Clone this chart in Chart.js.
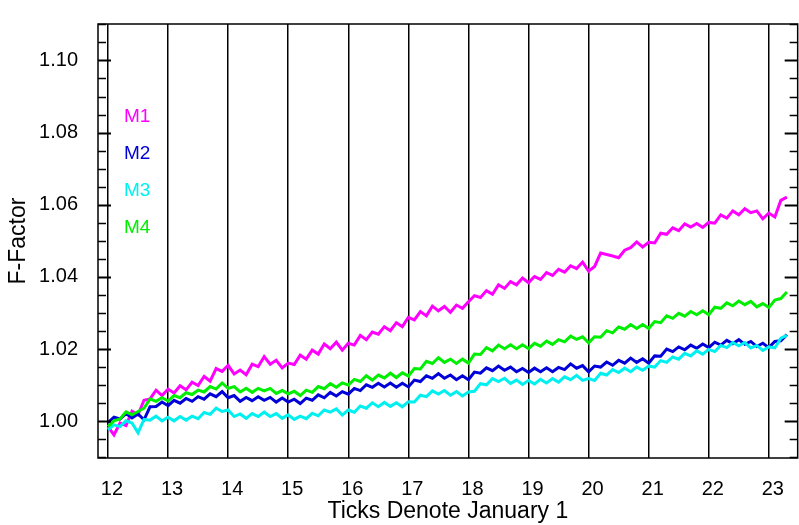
<!DOCTYPE html>
<html>
<head>
<meta charset="utf-8">
<script src="https://cdn.jsdelivr.net/npm/chart.js@4.4.1/dist/chart.umd.min.js"></script>
<style>
  html, body { margin: 0; padding: 0; background: #fff; }
  #wrap { width: 799px; height: 525px; }
</style>
</head>
<body>
<div id="wrap"><canvas id="myChart" width="799" height="525"></canvas></div>
<script>
// sample times (decimal year, 12 = Jan 1 2012)
const years = [
  12.0,12.1,12.2,12.3,12.4,12.5,12.6,12.7,12.8,12.9,
  13.0,13.1,13.2,13.3,13.4,13.5,13.6,13.7,13.8,13.9,
  14.0,14.1,14.2,14.3,14.4,14.5,14.6,14.7,14.8,14.9,
  15.0,15.1,15.2,15.3,15.4,15.5,15.6,15.7,15.8,15.9,
  16.0,16.1,16.2,16.3,16.4,16.5,16.6,16.7,16.8,16.9,
  17.0,17.1,17.2,17.3,17.4,17.5,17.6,17.7,17.8,17.9,
  18.0,18.1,18.2,18.3,18.4,18.5,18.6,18.7,18.8,18.9,
  19.0,19.1,19.2,19.3,19.4,19.5,19.6,19.7,19.8,19.9,
  20.0,20.1,20.2,20.3,20.4,20.5,20.6,20.7,20.8,20.9,
  21.0,21.1,21.2,21.3,21.4,21.5,21.6,21.7,21.8,21.9,
  22.0,22.1,22.2,22.3,22.4,22.5,22.6,22.7,22.8,22.9,
  23.0,23.1,23.2,23.3
];

const m1 = [
  0.9985,0.9962,0.9995,0.9988,1.0028,1.0018,1.0058,1.0062,1.0086,1.0071,
  1.0089,1.0078,1.0098,1.0087,1.0108,1.0099,1.0124,1.0111,1.0146,1.0138,
  1.0155,1.0131,1.0142,1.0129,1.0158,1.0151,1.0179,1.0158,1.0169,1.0148,
  1.0161,1.0157,1.0183,1.0172,1.0197,1.0186,1.0214,1.0201,1.0219,1.0197,
  1.0216,1.0211,1.0238,1.0226,1.0247,1.0241,1.0262,1.0251,1.0273,1.0262,
  1.0288,1.0281,1.0304,1.0292,1.0319,1.0306,1.0318,1.0302,1.0322,1.0313,
  1.0331,1.0348,1.0343,1.0362,1.0352,1.0378,1.0368,1.0387,1.0378,1.0397,
  1.0384,1.0401,1.0393,1.0412,1.0404,1.0421,1.0413,1.0431,1.0423,1.0441,
  1.0416,1.0429,1.0466,1.0462,1.0458,1.0453,1.0474,1.0481,1.0497,1.0483,
  1.0496,1.0494,1.0521,1.0518,1.0536,1.0528,1.0547,1.0538,1.0548,1.0537,
  1.0551,1.0549,1.0572,1.0563,1.0583,1.0572,1.0589,1.0578,1.0583,1.0561,
  1.0577,1.0566,1.0612,1.0621
];

const m2 = [
  0.9996,1.0011,1.0006,1.0021,1.0009,1.0020,1.0004,1.0040,1.0041,1.0053,
  1.0043,1.0058,1.0050,1.0063,1.0055,1.0068,1.0061,1.0076,1.0068,1.0082,
  1.0065,1.0071,1.0055,1.0066,1.0057,1.0068,1.0058,1.0066,1.0053,1.0064,
  1.0053,1.0061,1.0049,1.0064,1.0058,1.0073,1.0065,1.0080,1.0070,1.0082,
  1.0075,1.0091,1.0085,1.0101,1.0094,1.0105,1.0095,1.0106,1.0094,1.0105,
  1.0095,1.0114,1.0110,1.0126,1.0119,1.0132,1.0119,1.0128,1.0115,1.0126,
  1.0115,1.0136,1.0133,1.0148,1.0140,1.0153,1.0141,1.0150,1.0137,1.0146,
  1.0135,1.0147,1.0137,1.0148,1.0137,1.0149,1.0143,1.0159,1.0147,1.0154,
  1.0137,1.0153,1.0150,1.0164,1.0155,1.0169,1.0161,1.0175,1.0163,1.0173,
  1.0161,1.0181,1.0180,1.0200,1.0193,1.0206,1.0198,1.0211,1.0202,1.0214,
  1.0204,1.0219,1.0211,1.0224,1.0215,1.0226,1.0213,1.0221,1.0207,1.0216,
  1.0204,1.0221,1.0223,1.0240
];

const m3 = [
  0.9976,0.9990,0.9985,1.0001,0.9995,0.9968,1.0005,1.0003,1.0014,1.0001,
  1.0011,1.0001,1.0013,1.0003,1.0014,1.0007,1.0024,1.0019,1.0036,1.0027,
  1.0031,1.0013,1.0020,1.0008,1.0021,1.0013,1.0025,1.0013,1.0021,1.0008,
  1.0018,1.0005,1.0014,1.0007,1.0022,1.0015,1.0031,1.0025,1.0034,1.0017,
  1.0031,1.0025,1.0042,1.0036,1.0051,1.0040,1.0052,1.0041,1.0051,1.0040,
  1.0054,1.0053,1.0072,1.0068,1.0084,1.0075,1.0085,1.0072,1.0082,1.0070,
  1.0081,1.0083,1.0104,1.0101,1.0118,1.0110,1.0119,1.0105,1.0114,1.0102,
  1.0113,1.0103,1.0116,1.0106,1.0118,1.0108,1.0123,1.0115,1.0127,1.0113,
  1.0118,1.0113,1.0133,1.0128,1.0143,1.0135,1.0147,1.0137,1.0150,1.0141,
  1.0153,1.0150,1.0168,1.0163,1.0178,1.0172,1.0188,1.0181,1.0195,1.0186,
  1.0199,1.0193,1.0210,1.0204,1.0218,1.0209,1.0218,1.0203,1.0210,1.0196,
  1.0206,1.0203,1.0230,1.0238
];

const m4 = [
  0.9985,1.0001,1.0006,1.0026,1.0018,1.0027,1.0036,1.0062,1.0055,1.0065,
  1.0056,1.0071,1.0065,1.0079,1.0074,1.0086,1.0081,1.0096,1.0089,1.0106,
  1.0091,1.0096,1.0081,1.0091,1.0080,1.0091,1.0084,1.0091,1.0077,1.0085,
  1.0076,1.0083,1.0071,1.0086,1.0080,1.0096,1.0090,1.0104,1.0094,1.0106,
  1.0100,1.0116,1.0110,1.0126,1.0114,1.0128,1.0120,1.0133,1.0121,1.0134,
  1.0125,1.0146,1.0145,1.0166,1.0160,1.0176,1.0163,1.0172,1.0160,1.0172,
  1.0161,1.0186,1.0185,1.0204,1.0195,1.0211,1.0201,1.0212,1.0201,1.0212,
  1.0201,1.0216,1.0208,1.0222,1.0213,1.0226,1.0220,1.0236,1.0227,1.0234,
  1.0217,1.0234,1.0233,1.0251,1.0245,1.0261,1.0255,1.0268,1.0257,1.0268,
  1.0257,1.0276,1.0273,1.0292,1.0285,1.0299,1.0291,1.0304,1.0295,1.0306,
  1.0295,1.0316,1.0313,1.0328,1.0320,1.0333,1.0323,1.0332,1.0317,1.0326,
  1.0315,1.0336,1.0340,1.0358
];

const seriesNames = ['M1', 'M2', 'M3', 'M4'];
const seriesColors = ['#ff00ff', '#0000d8', '#00f0f0', '#00ee00'];
const seriesValues = [m1, m2, m3, m4];

const FONT = '"Liberation Sans", Arial, sans-serif';

function toPoints(vals) {
    return vals.map((v, i) => ({ x: years[i], y: v }));
}

// frame, inward y ticks and the M1..M4 labels
const frameTicks = {
    id: 'frameTicks',
    afterDatasetsDraw(chart) {
        const { ctx, chartArea: a, scales: { y } } = chart;
        ctx.save();
        ctx.strokeStyle = '#000';
        ctx.lineWidth = 1.5;
        ctx.strokeRect(a.left, a.top, a.right - a.left, a.bottom - a.top);
        for (let k = 0; k <= 24; k++) {
            const v = 0.99 + k * 0.005;
            const py = Math.round(y.getPixelForValue(v)) + 0.5;
            const major = k % 4 === 2;
            const len = major ? 13 : 8;
            ctx.lineWidth = major ? 2 : 1.5;
            ctx.beginPath();
            ctx.moveTo(a.left, py); ctx.lineTo(a.left + len, py);
            ctx.moveTo(a.right, py); ctx.lineTo(a.right - len, py);
            ctx.stroke();
        }
        ctx.font = '19px ' + FONT;
        ctx.textBaseline = 'middle';
        ctx.textAlign = 'left';
        const ys = [117, 154, 191, 228];
        seriesNames.forEach((n, i) => {
            ctx.fillStyle = seriesColors[i];
            ctx.fillText(n, 124, ys[i]);
        });
        ctx.restore();
    }
};

const ctx = document.getElementById('myChart').getContext('2d');

const myChart = new Chart(ctx, {
    type: 'line',
    data: {
        datasets: seriesValues.map((vals, i) => ({
            label: seriesNames[i],
            data: toPoints(vals),
            borderColor: seriesColors[i],
            backgroundColor: seriesColors[i],
            borderWidth: 3,
            pointRadius: 0,
            tension: 0,
            order: 4 - i
        }))
    },
    options: {
        responsive: false,
        animation: false,
        events: [],
        layout: { padding: { top: 9, right: 1, left: 0, bottom: 0 } },
        plugins: {
            legend: { display: false },
            tooltip: { enabled: false }
        },
        scales: {
            x: {
                type: 'linear',
                min: 11.834,
                max: 23.48,
                afterFit(s) { s.height = 67; },
                border: { display: false },
                grid: {
                    color: '#000',
                    lineWidth: 1.5,
                    drawTicks: false
                },
                ticks: {
                    stepSize: 1,
                    includeBounds: false,
                    autoSkip: false,
                    maxRotation: 0,
                    padding: 19,
                    labelOffset: 4,
                    color: '#000',
                    font: { family: FONT, size: 20 },
                    callback: v => String(v)
                },
                title: {
                    display: true,
                    text: 'Ticks Denote January 1',
                    color: '#000',
                    font: { family: FONT, size: 23 },
                    padding: { top: 0, bottom: 0 }
                }
            },
            y: {
                min: 0.9898,
                max: 1.1101,
                afterFit(s) { s.width = 98; },
                border: { display: false },
                grid: { display: false },
                ticks: {
                    stepSize: 0.02,
                    includeBounds: false,
                    padding: 12,
                    color: '#000',
                    font: { family: FONT, size: 20 },
                    callback: v => v.toFixed(2)
                },
                title: {
                    display: true,
                    text: 'F-Factor',
                    color: '#000',
                    font: { family: FONT, size: 23 },
                    padding: { top: 5, bottom: 0 }
                }
            }
        }
    },
    plugins: [frameTicks]
});
</script>
</body>
</html>
